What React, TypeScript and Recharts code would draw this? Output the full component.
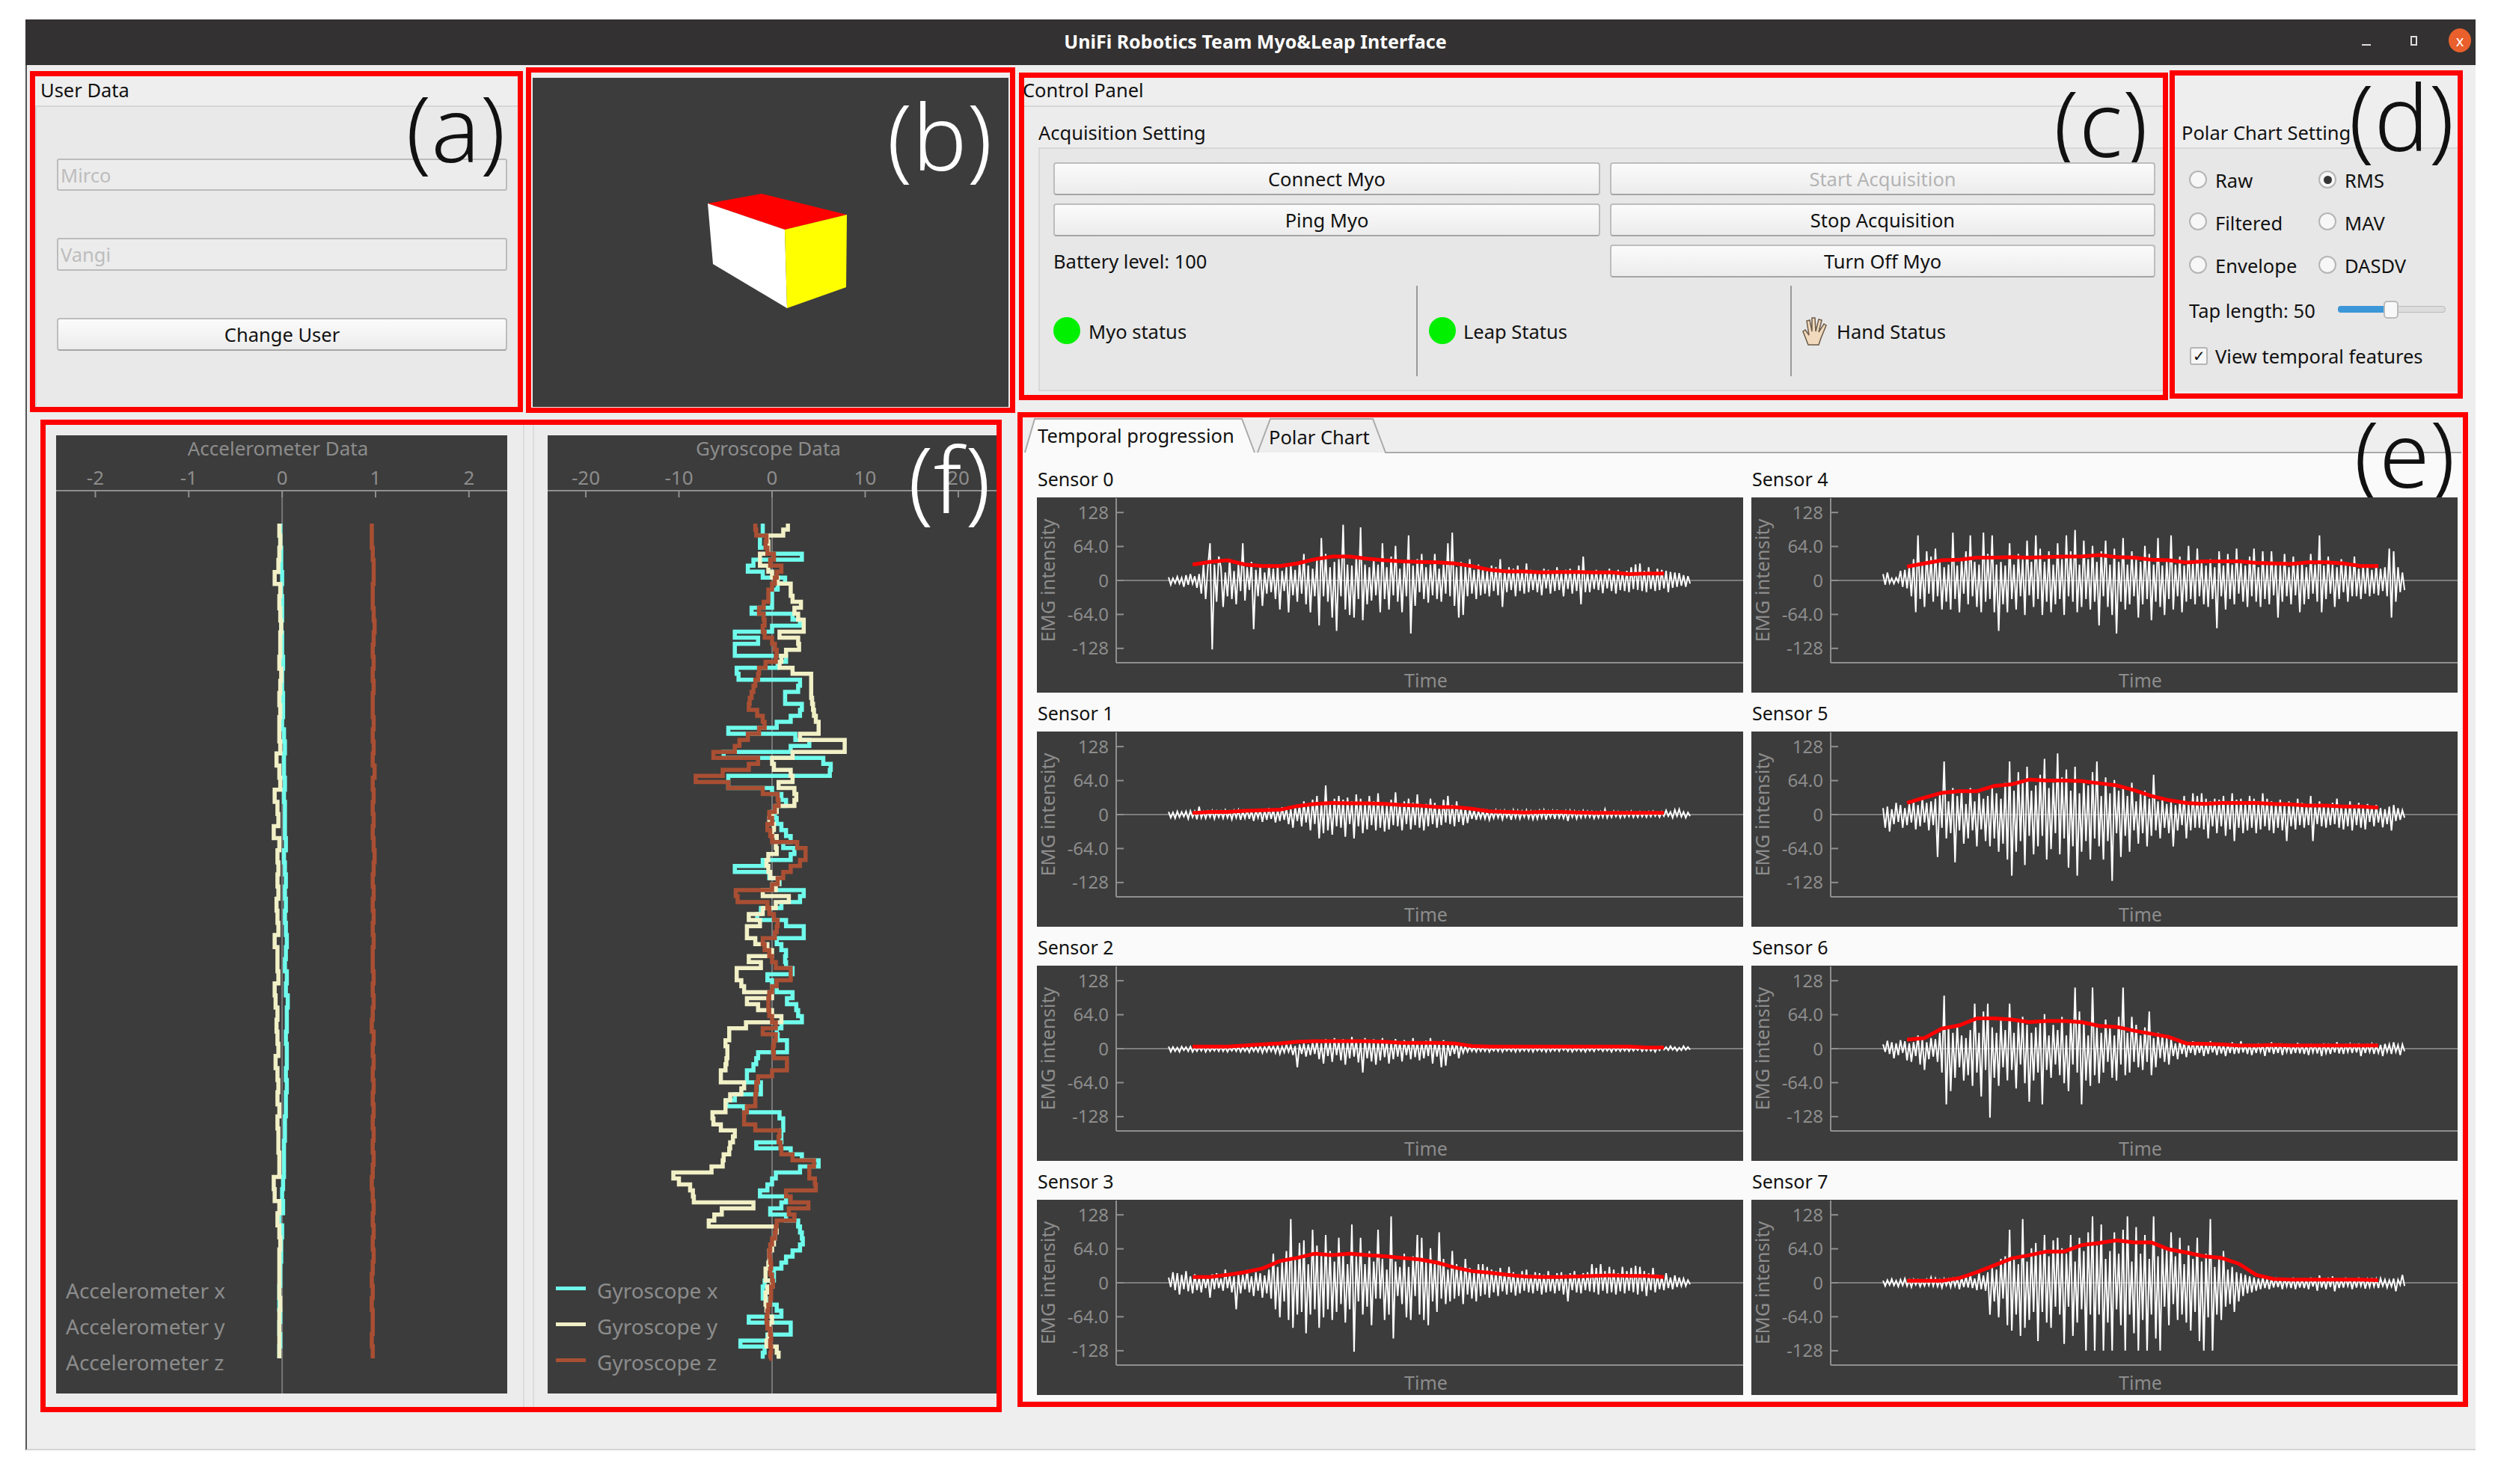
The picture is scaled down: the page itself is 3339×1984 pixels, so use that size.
import React from "react";
import { LineChart, Line, XAxis, YAxis, ReferenceLine } from "recharts";

// gyroscope samples, top to bottom
const gyroX = [-1,-1,-1.3,-1.3,-0.5,3.2,-2,-2.6,-1,1.4,0.6,0,0,0,-2.2,2.2,3,0,-4,-1.5,-4,-4,1.5,0.6,-3.8,-3.6,3,2.8,1.4,1.4,3.2,3,2,0.5,-4.7,2.5,4,2,-5.2,5.5,6.3,6.2,-4.7,-4.7,0,1,1.5,0.5,0.3,0.5,1,1.5,2,1.2,2.4,2,-1,-4,-0.3,0.8,0,3.4,3,1,-1.2,-1.6,1.5,3.4,3.4,0.5,1,1.5,1.4,1.5,2.2,-0.5,0,0.5,2.2,1.6,2.6,2.8,3.2,1,0.5,0.6,1.6,1.6,-1.5,-1.7,-2,-2.7,-2.7,-1.2,-1.2,-4,-4.9,-3,0.8,1.2,1.2,1,1,-1.7,2,3.2,5,3,0.4,0,-0.5,-1.3,1.5,1,-0.2,1.5,2.8,3,3.2,3.3,3,2.2,1.5,1,0.2,0.2,-0.8,-1,-1,-0.5,0.5,1,-2.5,2,2,-0.5,-3.4,-0.8,-1,-1];
const gyroY = [1.7,1.2,-0.5,-0.4,-0.4,-1.3,-1.3,-0.4,0,0.6,2,2,2.2,3.1,2.4,2.8,3.4,3.4,0.8,2.8,2.9,1.5,1,0.8,2.2,4.2,4.2,4.2,4.2,4.3,4.4,4.5,4.7,5,5,3,7.8,7.8,2.2,0,0.2,2,2.2,0.7,2.4,2.6,2.4,0.5,0,-0.3,0.2,0,0.5,0.4,0.5,-0.4,-0.6,-0.4,-0.2,0.7,0.4,-1,1.8,0.4,-1,-2.5,-1.3,-2.7,-2.7,-1.8,-0.5,0,-2.5,-1.2,-3.8,-3.8,-3.3,-3,0,-2.7,-1.5,0,1,-2.8,-4.6,-4.6,-5,-4.8,-4.8,-4.9,-5,-5.5,-5.5,-3,-3.3,-4.5,-5,-5,-6.4,-6.3,-5.5,-4,-4.2,-4.5,-4.6,-5.2,-5.3,-6.5,-10.6,-10,-8.8,-8.5,-8.4,-2,-5.4,-6.2,-6.8,0.5,0.3,0.2,0,-0.3,-0.3,-0.4,-0.7,-0.7,0,-0.5,-0.7,-0.7,-0.6,-0.5,0,-0.3,-0.2,-0.4,-0.6,0.5,0.7,0.7];
const gyroZ = [-1.8,-1.7,-0.6,-0.7,-0.5,0.2,-0.2,1,0.5,0.3,0,-0.4,-0.4,-0.9,-1.4,-0.9,-0.8,-1,-0.8,0,0.3,0.5,0.4,-0.7,-1.4,-1.5,-1.8,-2,-2.2,-2.4,-2.5,-1.6,-1,-0.8,-1.4,-2.6,-3.5,-4,-6.3,-1.5,-2.5,-5.3,-8.2,-4.7,-1,0.6,0.7,0.3,-0.3,0,-0.5,-0.2,0,2.7,3.6,3.6,3,2,1.2,0.6,0,-3.9,-3.7,-0.5,-0.3,0.2,0.6,0.5,0.3,-1,-0.8,-0.3,0,0.4,2,2,0.5,0,-0.3,-0.4,-0.4,-0.3,0,0.4,-1,0.4,0.2,0.1,0.2,1.6,1.6,0,-1.5,-1.7,-1.7,-1.8,-1.8,-2.7,-3,-3,-1.8,0.8,0.7,0.9,1,2.2,4.5,4,4,4.6,4.7,1.5,2,3.9,1.8,2.4,0.5,0.4,0.3,0,-0.2,-0.3,-0.2,-0.1,-0.2,0,0.1,-0.1,-0.1,-0.2,-0.4,-0.5,-0.6,-0.5,-0.2,-0.1,-0.2,-0.1,-0.2,-0.3];

// accelerometer samples, top to bottom
const accX = [-0.02,-0.02,-0.01,-0.01,0,-0.01,0,0,-0.01,0,0,0.01,0,0,0.01,0.01,0,0.02,0.03,0.02,0.02,0.03,0.02,0.03,0.03,0.03,0.04,0.02,0.03,0.04,0.03,0.04,0.03,0.04,0.05,0.04,0.03,0.05,0.04,0.06,0.05,0.05,0.04,0.05,0.05,0.04,0.05,0.04,0.04,0.03,0.03,0.02,0.02,0.02,0.01,0,0.01,-0.03,0,-0.01,-0.01,-0.02,-0.02,-0.03,-0.03,-0.02,-0.03,-0.02,-0.03,-0.03];
const accY = [-0.03,-0.02,-0.03,-0.04,-0.08,-0.02,-0.03,-0.02,-0.01,-0.02,-0.02,-0.03,-0.01,-0.02,-0.03,-0.02,-0.03,-0.03,-0.02,-0.06,-0.03,-0.02,-0.08,-0.05,-0.04,-0.09,-0.03,-0.05,-0.04,-0.05,-0.04,-0.06,-0.05,-0.04,-0.08,-0.05,-0.05,-0.04,-0.08,-0.07,-0.05,-0.06,-0.05,-0.04,-0.07,-0.05,-0.04,-0.05,-0.03,-0.05,-0.04,-0.04,-0.03,-0.03,-0.09,-0.08,-0.03,-0.05,-0.03,-0.02,-0.03,-0.03,-0.03,-0.03,-0.02,-0.03,-0.03,-0.03,-0.03,-0.03];
const accZ = [0.96,0.96,0.97,0.98,0.98,0.97,0.97,0.98,0.99,0.98,0.97,0.98,0.97,0.98,0.97,0.97,0.98,0.97,0.98,0.97,0.99,0.97,0.98,0.97,0.98,0.97,0.98,0.99,0.98,0.97,0.98,0.97,0.98,0.97,0.98,0.97,0.97,0.98,0.97,0.98,0.97,0.96,0.98,0.97,0.98,0.97,0.98,0.97,0.98,0.97,0.98,0.97,0.98,0.97,0.96,0.97,0.98,0.97,0.98,0.97,0.98,0.97,0.96,0.97,0.96,0.97,0.97,0.96,0.97,0.97];

// emg traces, 24 peaks per row
const emg0 = [6,-8,4,-5,7,-6,5,-12,10,-8,12,-6,8,-14,12,-25,30,-35,25,70,-130,30,-40,45,
  25,-50,15,-30,40,-35,18,-45,30,-20,70,-38,25,-18,35,-92,20,-30,28,-48,15,-25,30,-22,
  22,-35,28,-55,18,-20,25,-60,30,-28,20,-40,35,-25,50,-45,28,-60,22,-30,40,-85,80,-30,
  50,-40,25,-70,35,-95,40,-30,105,-55,30,-65,28,-70,45,-35,100,-75,30,-45,25,-38,40,-28,
  30,-60,70,-35,25,-55,45,-28,65,-40,22,-60,35,-30,85,-100,28,-48,40,-22,50,-35,25,-42,
  30,-28,50,-35,22,-40,30,-25,70,-30,90,-48,25,-70,35,-65,28,-30,40,-25,20,-35,30,-28,
  22,-25,18,-30,28,-20,25,-28,40,-50,20,-22,25,-18,22,-30,28,-20,18,-25,32,-22,20,-18,
  18,-22,15,-28,22,-15,20,-25,18,-20,25,-18,15,-30,20,-16,22,-25,18,-20,28,-45,45,-22,
  15,-22,18,-16,20,-18,14,-24,18,-15,22,-20,16,-25,20,-18,15,-20,18,-22,25,-16,30,-18,
  32,-20,18,-22,25,-16,15,-20,22,-18,20,-15,18,-22,16,-14,15,-12,14,-10,10,-12,8,-6];
const emg1 = [5,-6,4,-7,6,-5,5,-4,6,-8,7,-5,6,-9,15,-6,5,-7,6,-5,7,-8,6,-5,
  6,-7,8,-6,5,-9,7,-6,8,-10,6,-7,9,-8,7,-12,8,-6,9,-14,8,-10,12,-8,
  10,-15,8,-12,14,-10,12,-18,10,-25,15,-12,18,-22,25,-15,20,-30,28,-18,35,-45,22,-35,
  55,-30,20,-38,30,-22,35,-25,28,-42,32,-18,25,-45,38,-22,30,-35,22,-28,35,-20,25,-30,
  40,-25,22,-32,18,-28,28,-20,42,-22,20,-30,25,-18,30,-28,22,-20,38,-25,18,-30,20,-22,
  30,-18,22,-25,15,-20,28,-15,35,-18,18,-22,25,-14,15,-20,12,-16,10,-8,8,-10,6,-7,
  7,-8,6,-10,5,-7,8,-6,6,-9,7,-5,5,-10,8,-6,7,-8,6,-5,8,-7,6,-9,
  5,-8,7,-6,8,-10,6,-5,7,-8,9,-6,5,-7,6,-12,7,-5,6,-8,5,-6,7,-5,
  6,-5,5,-7,4,-6,5,-5,10,-6,4,-5,6,-4,5,-6,4,-5,5,-4,6,-5,4,-5,
  5,-4,4,-5,5,-4,6,-3,4,-5,5,-3,8,-3,5,-6,9,-3,10,-4,5,-6,4,-3];
const emg2 = [4,-6,3,-5,2,-6,4,-3,3,-5,4,-6,2,-5,3,-4,4,-6,3,-5,2,-4,3,-5,
  4,-5,3,-6,2,-4,3,-5,4,-6,3,-5,2,-7,4,-5,3,-6,5,-8,4,-6,6,-5,
  5,-8,6,-10,4,-7,8,-6,6,-12,5,-35,8,-10,10,-15,8,-12,12,-10,15,-20,10,-28,
  18,-14,12,-25,20,-12,15,-22,18,-30,14,-18,22,-15,16,-26,12,-45,20,-18,15,-24,18,-30,
  14,-22,20,-16,15,-28,12,-20,18,-15,14,-24,16,-12,12,-20,20,-16,14,-22,12,-18,15,-14,
  20,-28,14,-15,12,-35,16,-32,10,-14,8,-10,12,-18,6,-8,5,-6,4,-5,3,-6,4,-5,
  3,-5,4,-6,2,-4,3,-5,4,-6,3,-4,2,-5,3,-6,4,-5,2,-4,3,-5,4,-6,
  3,-4,2,-5,3,-6,4,-5,2,-4,3,-5,4,-3,2,-5,3,-6,2,-4,3,-5,2,-6,
  3,-4,2,-5,4,-3,2,-5,3,-4,2,-6,3,-4,2,-5,3,-4,2,-5,3,-4,2,-3,
  3,-5,2,-4,3,-4,2,-6,3,-3,4,-2,3,-3,5,-2,3,-4,2,-3,5,-2,3,-2];
const emg3 = [10,-8,20,-14,18,-22,15,-12,22,-16,12,-20,16,-14,10,-18,14,-10,12,-28,16,-12,18,-10,
  8,-15,25,-10,14,-18,12,-50,16,-20,15,-12,24,-18,12,-25,20,-15,18,-28,14,-20,25,-30,
  55,-50,30,-65,40,-35,60,-70,120,-85,45,-60,75,-55,80,-95,35,-60,100,-50,70,-85,55,-65,
  90,-50,60,-70,40,-55,85,-40,55,-75,35,-50,110,-130,50,-35,85,-60,35,-45,60,-80,40,-30,
  100,-30,45,-70,25,-60,125,-105,40,-25,30,-40,55,-65,30,-70,50,-25,90,-60,85,-70,40,-80,
  65,-35,40,-55,95,-30,45,-40,25,-35,60,-30,35,-25,30,-40,45,-22,28,-30,20,-35,35,-25,
  35,-22,30,-28,25,-18,22,-25,28,-16,18,-22,30,-18,20,-24,16,-20,22,-15,25,-18,15,-20,
  20,-15,18,-22,15,-18,22,-16,14,-20,18,-15,20,-22,15,-35,18,-14,22,-18,15,-20,18,-14,
  20,-16,35,-18,28,-22,35,-15,22,-20,30,-18,25,-22,18,-16,30,-20,22,-15,28,-18,32,-22,
  30,-16,22,-25,18,-14,28,-18,15,-12,12,-14,18,-10,10,-12,14,-8,10,-6,8,-6,5,-3];
const emg4 = [12,-8,15,-5,4,-6,5,-3,18,-12,20,-15,25,-30,40,-60,85,-35,30,-50,55,-25,45,-40,
  60,-30,35,-55,25,-40,30,-55,90,-35,28,-60,40,-25,55,-45,85,-30,35,-50,30,-60,90,-40,
  50,-35,85,-60,30,-95,35,-45,28,-60,70,-35,30,-55,50,-30,40,-65,75,-28,35,-50,85,-35,
  60,-65,35,-40,55,-60,30,-45,70,-35,40,-65,85,-30,55,-40,95,-60,30,-50,75,-35,40,-55,
  65,-40,35,-85,55,-30,75,-50,30,-65,60,-100,35,-40,80,-55,30,-45,55,-30,40,-70,35,-45,
  65,-35,50,-75,30,-40,80,-50,28,-65,40,-35,85,-55,30,-30,45,-60,28,-40,65,-35,35,-45,
  60,-30,35,-45,28,-50,40,-35,25,-90,55,-30,28,-55,50,-35,30,-45,60,-25,35,-40,28,-50,
  45,-30,60,-40,25,-50,55,-35,30,-45,55,-28,35,-70,28,-40,50,-30,25,-45,45,-28,30,-60,
  35,-45,25,-35,50,-25,30,-40,85,-60,28,-35,45,-25,30,-50,25,-35,40,-22,30,-40,28,-30,
  45,-30,22,-35,30,-25,28,-30,20,-25,30,-28,22,-20,25,-30,60,-70,55,-40,25,-22,15,-18];
const emg5 = [12,-25,15,-32,10,-18,22,-14,18,-25,12,-20,20,-15,25,-28,18,-22,30,-15,22,-30,25,-20,
  30,-80,40,-25,100,-45,25,-35,50,-90,35,-30,45,-55,20,-45,50,-30,25,-60,40,-28,30,-50,
  35,-60,50,-45,40,-70,30,-55,60,-85,100,-115,45,-70,80,-50,65,-95,90,-40,45,-75,55,-60,
  75,-40,105,-85,50,-65,60,-35,115,-75,70,-45,85,-100,45,-60,90,-115,40,-70,65,-50,55,-85,
  80,-45,100,-60,35,-85,70,-50,40,-125,65,-35,45,-80,55,-40,35,-70,60,-30,25,-55,40,-35,
  45,-60,30,-40,75,-30,25,-45,30,-25,20,-35,25,-60,18,-30,25,-20,35,-45,20,-30,40,-25,
  35,-25,40,-28,30,-45,25,-22,30,-35,28,-22,35,-40,25,-28,40,-50,28,-25,30,-35,22,-30,
  35,-25,30,-35,25,-28,40,-22,30,-30,25,-35,22,-25,28,-30,20,-50,25,-22,18,-28,30,-20,
  22,-25,18,-20,35,-50,20,-18,25,-22,18,-25,15,-20,22,-18,30,-25,18,-28,15,-22,25,-30,
  18,-20,22,-25,15,-28,20,-14,16,-22,18,-15,12,-24,10,-18,15,-30,18,-12,12,-10,8,-6];
const emg6 = [8,-6,15,-10,12,-18,10,-12,16,-8,14,-22,10,-25,12,-14,25,-30,18,-40,12,-20,20,-15,
  18,-25,30,-45,100,-105,40,-80,30,-55,45,-35,25,-60,20,-50,35,-70,85,-45,30,-90,70,-40,
  85,-130,40,-55,30,-70,55,-35,35,-60,85,-40,30,-75,50,-30,60,-65,45,-100,30,-60,40,-45,
  50,-105,65,-40,25,-55,45,-30,35,-50,60,-65,25,-80,55,-30,115,-45,70,-105,50,-60,25,-70,
  115,-50,40,-65,30,-45,55,-25,40,-55,25,-60,60,-30,115,-50,30,-45,60,-25,45,-35,25,-40,
  40,-25,70,-50,20,-35,30,-18,25,-25,20,-30,18,-14,10,-20,15,-10,12,-16,10,-8,14,-12,
  12,-8,10,-14,9,-10,14,-7,8,-12,10,-9,7,-14,9,-8,12,-10,8,-9,14,-7,8,-10,
  9,-12,7,-8,10,-6,8,-14,9,-7,12,-10,7,-8,10,-12,8,-6,9,-10,7,-8,11,-9,
  8,-10,6,-12,9,-7,8,-9,7,-14,10,-8,6,-10,8,-7,12,-9,7,-10,9,-6,8,-8,
  9,-7,10,-14,7,-8,9,-6,8,-10,6,-8,7,-14,9,-6,8,-10,12,-6,7,-12,8,-5];
const emg7 = [4,-6,5,-4,7,-5,4,-7,6,-5,8,-6,5,-8,6,-4,5,-7,4,-6,6,-5,10,-6,
  8,-7,5,-9,7,-5,6,-8,10,-6,8,-12,10,-8,12,-9,15,-10,8,-14,18,-12,14,-15,
  20,-60,30,-35,25,-65,45,-30,50,-80,100,-90,45,-60,35,-100,120,-85,40,-70,65,-55,75,-110,
  60,-55,90,-75,50,-85,80,-45,85,-60,65,-115,55,-45,90,-100,40,-75,85,-50,60,-128,95,-60,
  125,-128,70,-60,110,-128,45,-75,60,-128,95,-50,55,-80,100,-128,125,-60,40,-95,105,-128,55,-70,
  90,-128,45,-60,125,-105,50,-128,70,-45,65,-80,95,-40,50,-70,85,-60,35,-75,70,-90,45,-55,
  85,-110,40,-128,55,-65,120,-128,30,-60,50,-70,60,-45,25,-40,30,-55,20,-35,18,-25,15,-20,
  12,-18,10,-15,8,-12,10,-10,7,-12,8,-9,10,-8,7,-12,9,-7,8,-10,10,-12,7,-9,
  8,-10,6,-12,10,-7,8,-15,14,-9,7,-12,10,-8,12,-16,8,-10,7,-9,10,-6,8,-12,
  7,-9,10,-6,8,-11,6,-8,9,-7,7,-10,8,-6,6,-9,5,-7,8,-16,6,-4,15,-6];

// rms envelope, one value every 8 samples starting at sample 11
const rms0 = [30,35,38,30,27,27,32,40,45,45,41,38,36,35,34,32,27,20,17,17,15,16,16,15,15,12,13,13];
const rms1 = [3,5,5,7,8,9,16,20,22,21,21,20,18,17,14,14,11,6,5,4,5,5,4,3,3,3,3,3];
const rms2 = [4,4,4,6,8,10,13,14,14,14,14,13,11,11,11,10,5,4,4,4,4,4,4,4,4,4,2,2];
const rms3 = [11,11,15,20,27,41,47,55,52,55,52,50,47,44,38,29,22,19,15,12,11,11,12,13,14,13,13,11];
const rms4 = [26,32,38,39,43,43,44,43,44,45,45,48,44,43,39,38,34,36,36,36,33,32,31,34,34,32,27,27];
const rms5 = [22,32,41,44,44,54,57,66,64,64,63,59,55,46,35,27,22,20,22,22,22,20,19,17,17,15,15,13];
const rms6 = [17,20,38,44,57,57,55,50,52,52,50,43,41,34,28,22,10,9,8,6,6,7,6,6,6,6,6,6];
const rms7 = [4,4,4,9,20,33,46,52,59,59,71,75,80,76,76,63,57,50,47,36,15,7,6,6,6,6,6,5];

const emgTicks = [128, 64, 0, -64, -128];
const emgTickLabels = ["128", "64.0", "0", "-64.0", "-128"];
const accTicks = [-2, -1, 0, 1, 2];
const gyroTicks = [-20, -10, 0, 10, 20];
const accLegend = ["Accelerometer x", "Accelerometer y", "Accelerometer z"];
const gyroLegend = ["Gyroscope x", "Gyroscope y", "Gyroscope z"];

const DARK = "#3c3c3c";
const GREY = "#8c8c8c";
const AXIS = "#8f8f8f";
const CYAN = "#6ffbec";
const CREAM = "#f1f0c6";
const RUST = "#a94f33";
const FONT = '"Noto Sans", sans-serif';
const UI = 25.5;

function Txt({ x, y, size = UI, color = "#111", center = false, weight = 400, children }: any) {
  return (
    <div style={{ position: "absolute", left: x, top: y, fontSize: size, color, fontWeight: weight, lineHeight: 1,
      whiteSpace: "nowrap", transform: center ? "translate(-50%,-50%)" : "translateY(-50%)" }}>
      {children}
    </div>
  );
}

function Box({ x, y, w, h, style }: any) {
  return <div style={{ position: "absolute", left: x, top: y, width: w, height: h, boxSizing: "border-box", ...style }} />;
}

function Btn({ x, y, w, h, label, color = "#111" }: any) {
  return (
    <div style={{ position: "absolute", left: x, top: y, width: w, height: h, boxSizing: "border-box",
      border: "2px solid #bdbdbd", borderBottomColor: "#a5a5a5", borderRadius: 4,
      background: "linear-gradient(#fbfbfb,#ececec)", display: "flex", alignItems: "center",
      justifyContent: "center", fontSize: UI, color }}>
      {label}
    </div>
  );
}

function Radio({ x, y, on = false }: any) {
  return (
    <div style={{ position: "absolute", left: x - 12, top: y - 12, width: 24, height: 24, boxSizing: "border-box",
      borderRadius: "50%", border: "2px solid #b5b5b5", background: "#f7f7f7", display: "flex",
      alignItems: "center", justifyContent: "center" }}>
      {on && <div style={{ width: 11, height: 11, borderRadius: "50%", background: "#333" }} />}
    </div>
  );
}

function Sensor({ x, y, name, signal, rms }: any) {
  const rows = signal.map((v: number, t: number) => ({
    t,
    emg: v,
    rms: t >= 11 && (t - 11) % 8 === 0 ? rms[(t - 11) / 8] : undefined,
  }));
  return (
    <>
      <Txt x={x + 1} y={y - 25} size={25}>{name}</Txt>
      <div style={{ position: "absolute", left: x, top: y, width: 944, height: 261, background: DARK }}>
        <LineChart width={944} height={261} data={rows} margin={{ top: 1, right: 0, bottom: 0, left: 0 }}>
          <XAxis dataKey="t" type="number" domain={[-24, 263.3]} tick={false} tickLine={false} height={40}
            stroke={AXIS} strokeWidth={2}
            label={{ value: "Time", position: "insideBottom", offset: 7, dx: -5, fill: GREY, fontSize: 25 }} />
          <YAxis type="number" domain={[-155, 155]} ticks={emgTicks} interval={0} width={106}
            stroke={AXIS} strokeWidth={2} tickSize={-10} tickMargin={20}
            tick={{ fill: GREY, fontSize: 24 }}
            tickFormatter={(v: number) => emgTickLabels[emgTicks.indexOf(v)]}
            label={{ value: "EMG intensity", angle: -90, position: "insideLeft", offset: 15, fill: GREY, fontSize: 25.5, style: { textAnchor: "middle" } }} />
          <ReferenceLine y={0} stroke="#7d7d7d" strokeWidth={2} />
          <Line dataKey="emg" stroke="#ffffff" strokeWidth={2} dot={false} isAnimationActive={false} />
          <Line dataKey="rms" stroke="#ff0000" strokeWidth={5} dot={false} connectNulls isAnimationActive={false} />
        </LineChart>
      </div>
    </>
  );
}

function Imu({ x, title, ticks, domain, yDomain, rows, keys, colors, width }: any) {
  return (
    <div style={{ position: "absolute", left: x, top: 582, width, height: 1281, background: DARK }}>
      <LineChart layout="vertical" width={width} height={1281} data={rows} margin={{ top: 0, right: 0, bottom: 0, left: 0 }}>
        <XAxis type="number" orientation="top" domain={domain} ticks={ticks} interval={0} height={74}
          stroke={AXIS} strokeWidth={2} tickSize={-9} tickMargin={17} tick={{ fill: GREY, fontSize: 26 }} />
        <YAxis type="number" dataKey="i" domain={yDomain} hide />
        <ReferenceLine x={0} stroke="#777" strokeWidth={2} />
        {keys.map((k: string, n: number) => (
          <Line key={k} dataKey={k} type="stepBefore" stroke={colors[n]} strokeWidth={5.5} dot={false} isAnimationActive={false} />
        ))}
      </LineChart>
      <Txt x={width / 2 - 5} y={17} size={26} color={GREY} center>{title}</Txt>
    </div>
  );
}

const accRows = accX.map((v, i) => ({ i, x: v, y: accY[i], z: accZ[i] }));
const gyroRows = gyroX.map((v, i) => ({ i, x: v, y: gyroY[i], z: gyroZ[i] }));

export default function App() {
  const redBox = { border: "7px solid #ff0000" };
  const big = { size: 122, center: true, weight: 300 };
  return (
    <div style={{ position: "absolute", left: 0, top: 0, width: 3339, height: 1984, background: "#fff", overflow: "hidden", fontFamily: FONT }}>
      {/* window */}
      <Box x={34} y={26} w={3275} h={1913} style={{ background: "#eeeeee", borderBottom: "2px solid #d5d5d5", borderLeft: "2px solid #555" }} />
      <Box x={34} y={26} w={3275} h={61} style={{ background: "#333131" }} />
      <Txt x={1678} y={55} size={25} color="#fff" weight={700} center>UniFi Robotics Team Myo&amp;Leap Interface</Txt>
      <Box x={3157} y={59} w={12} h={2} style={{ background: "#ddd" }} />
      <Box x={3222} y={48} w={9} h={13} style={{ border: "2px solid #ddd" }} />
      <div style={{ position: "absolute", left: 3273, top: 38, width: 30, height: 32, borderRadius: "50%", background: "#e9602c", color: "#fff", fontSize: 20, display: "flex", alignItems: "center", justifyContent: "center" }}>x</div>

      {/* (a) user data */}
      <Box x={47} y={141} w={645} h={404} style={{ background: "#e9e9e9", borderTop: "2px solid #d6d6d6", borderLeft: "2px solid #d6d6d6" }} />
      <Txt x={54} y={121}>User Data</Txt>
      <Box x={76} y={212} w={602} h={43} style={{ background: "#ececec", border: "2px solid #bbb", borderRadius: 3 }} />
      <Txt x={81} y={235} color="#bdbdbd">Mirco</Txt>
      <Box x={76} y={318} w={602} h={44} style={{ background: "#ececec", border: "2px solid #bbb", borderRadius: 3 }} />
      <Txt x={81} y={341} color="#bdbdbd">Vangi</Txt>
      <Btn x={76} y={425} w={602} h={44} label="Change User" />
      <Box x={40} y={95} w={659} h={456} style={redBox} />
      <Txt x={609} y={170} {...big}>(a)</Txt>

      {/* (b) orientation view */}
      <Box x={703} y={90} w={654} h={462} style={{ background: "#ff0000" }} />
      <Box x={710} y={97} w={640} h={448} style={{ background: "#eeeeee" }} />
      <Box x={712} y={104} w={636} h={440} style={{ background: DARK }} />
      <svg width={3339} height={1984} style={{ position: "absolute", left: 0, top: 0 }}>
        <polygon points="946,272 1018,259 1132,287 1049,307" fill="#ff0000" />
        <polygon points="946,272 1049,307 1052,412 953,353" fill="#ffffff" />
        <polygon points="1049,307 1132,287 1131,384 1052,412" fill="#ffff00" />
      </svg>
      <Txt x={1256} y={181} {...big} color="#fff">(b)</Txt>

      {/* (c) control panel */}
      <Box x={1362} y={141} w={1536} h={394} style={{ background: "#ececec", borderTop: "2px solid #d6d6d6" }} />
      <Box x={1388} y={197} w={1510} h={326} style={{ background: "#e7e7e7", border: "2px solid #d8d8d8" }} />
      <Txt x={1367} y={121}>Control Panel</Txt>
      <Txt x={1388} y={178}>Acquisition Setting</Txt>
      <Txt x={2808} y={163} {...big}>(c)</Txt>
      <Btn x={1408} y={217} w={731} h={44} label="Connect Myo" />
      <Btn x={2152} y={217} w={729} h={44} label="Start Acquisition" color="#b4b4b4" />
      <Btn x={1408} y={272} w={731} h={44} label="Ping Myo" />
      <Btn x={2152} y={272} w={729} h={44} label="Stop Acquisition" />
      <Txt x={1408} y={350}>Battery level: 100</Txt>
      <Btn x={2152} y={327} w={729} h={44} label="Turn Off Myo" />
      <Box x={1893} y={382} w={2} h={121} style={{ background: "#9a9a9a" }} />
      <Box x={2393} y={382} w={2} h={121} style={{ background: "#9a9a9a" }} />
      <Box x={1408} y={424} w={36} h={36} style={{ background: "#00f000", borderRadius: "50%" }} />
      <Txt x={1455} y={444}>Myo status</Txt>
      <Box x={1910} y={424} w={36} h={36} style={{ background: "#00f000", borderRadius: "50%" }} />
      <Txt x={1956} y={444}>Leap Status</Txt>
      <svg width={40} height={42} viewBox="0 0 40 42" style={{ position: "absolute", left: 2407, top: 421 }}>
        <path d="M10 40 L3 22 L6 20 L11 27 L8 8 L12 7 L15 22 L15 4 L19 4 L20 22 L24 6 L28 7 L24 23 L31 12 L34 14 L27 31 L24 40 Z"
          fill="#f1d9bd" stroke="#6b5a48" strokeWidth={1.5} />
      </svg>
      <Txt x={2455} y={444}>Hand Status</Txt>
      <Box x={1362} y={97} w={1536} h={438} style={redBox} />

      {/* (d) polar chart settings */}
      <Box x={2905} y={197} w={380} h={326} style={{ background: "#e7e7e7", borderTop: "2px solid #d8d8d8" }} />
      <Txt x={2916} y={178}>Polar Chart Setting</Txt>
      <Radio x={2938} y={240} /><Txt x={2961} y={242}>Raw</Txt>
      <Radio x={3111} y={240} on /><Txt x={3134} y={242}>RMS</Txt>
      <Radio x={2938} y={296} /><Txt x={2961} y={299}>Filtered</Txt>
      <Radio x={3111} y={296} /><Txt x={3134} y={299}>MAV</Txt>
      <Radio x={2938} y={354} /><Txt x={2961} y={356}>Envelope</Txt>
      <Radio x={3111} y={354} /><Txt x={3134} y={356}>DASDV</Txt>
      <Txt x={2926} y={416}>Tap length: 50</Txt>
      <Box x={3125} y={409} w={144} h={9} style={{ background: "#dcdcdc", border: "1px solid #bbb", borderRadius: 4 }} />
      <Box x={3125} y={409} w={70} h={9} style={{ background: "#3b97d8", borderRadius: 4 }} />
      <Box x={3186} y={402} w={20} h={24} style={{ background: "#f8f8f8", border: "2px solid #bbb", borderRadius: 5 }} />
      <Box x={2927} y={464} w={24} h={24} style={{ background: "#f7f7f7", border: "2px solid #b5b5b5", borderRadius: 3 }} />
      <Txt x={2939} y={476} size={20} center>✓</Txt>
      <Txt x={2961} y={477}>View temporal features</Txt>
      <Box x={2900} y={94} w={392} h={439} style={redBox} />
      <Txt x={3210} y={155} {...big}>(d)</Txt>

      {/* (f) imu panels */}
      <Box x={61} y={568} w={1271} h={1313} style={{ background: "#ececec" }} />
      <Box x={699} y={568} w={2} h={1313} style={{ background: "#dcdcdc" }} />
      <Box x={712} y={568} w={2} h={1313} style={{ background: "#dcdcdc" }} />
      <Imu x={75} width={603} title="Accelerometer Data" ticks={accTicks} domain={[-2.42, 2.41]} yDomain={[-2.72, 71.9]}
        rows={accRows} keys={["x", "y", "z"]} colors={[CYAN, CREAM, RUST]} />
      <Imu x={732} width={600} title="Gyroscope Data" ticks={gyroTicks} domain={[-24.1, 24.1]} yDomain={[-5.48, 144.8]}
        rows={gyroRows} keys={["x", "y", "z"]} colors={[CYAN, CREAM, RUST]} />
      {accLegend.map((t, n) => (
        <Txt key={t} x={88} y={1725 + n * 48} size={28} color={GREY}>{t}</Txt>
      ))}
      {gyroLegend.map((t, n) => (
        <React.Fragment key={t}>
          <Box x={743} y={1720 + n * 48} w={40} h={5} style={{ background: [CYAN, CREAM, RUST][n] }} />
          <Txt x={798} y={1725 + n * 48} size={28} color={GREY}>{t}</Txt>
        </React.Fragment>
      ))}
      <Box x={54} y={561} w={1285} h={1327} style={redBox} />
      <Txt x={1269} y={639} {...big} color="#fff">(f)</Txt>

      {/* (e) emg tabs */}
      <Box x={1368} y={605} w={1922} h={1268} style={{ background: "#fafafa" }} />
      <Box x={1851} y={604} w={1439} h={2} style={{ background: "#aaa" }} />
      <svg width={520} height={50} style={{ position: "absolute", left: 1365, top: 558 }}>
        <path d="M5 47 L18 2 L295 2 L312 47" fill="#fafafa" stroke="#aaa" strokeWidth={2} />
        <path d="M316 47 L333 2 L470 2 L487 47" fill="#eeeeee" stroke="#aaa" strokeWidth={2} />
      </svg>
      <Txt x={1387} y={583}>Temporal progression</Txt>
      <Txt x={1696} y={585}>Polar Chart</Txt>
      <Txt x={3214} y={605} {...big}>(e)</Txt>
      <Sensor x={1386} y={665} name="Sensor 0" signal={emg0} rms={rms0} />
      <Sensor x={1386} y={978} name="Sensor 1" signal={emg1} rms={rms1} />
      <Sensor x={1386} y={1291} name="Sensor 2" signal={emg2} rms={rms2} />
      <Sensor x={1386} y={1604} name="Sensor 3" signal={emg3} rms={rms3} />
      <Sensor x={2341} y={665} name="Sensor 4" signal={emg4} rms={rms4} />
      <Sensor x={2341} y={978} name="Sensor 5" signal={emg5} rms={rms5} />
      <Sensor x={2341} y={1291} name="Sensor 6" signal={emg6} rms={rms6} />
      <Sensor x={2341} y={1604} name="Sensor 7" signal={emg7} rms={rms7} />
      <Box x={1360} y={551} w={1939} h={1330} style={redBox} />
    </div>
  );
}
